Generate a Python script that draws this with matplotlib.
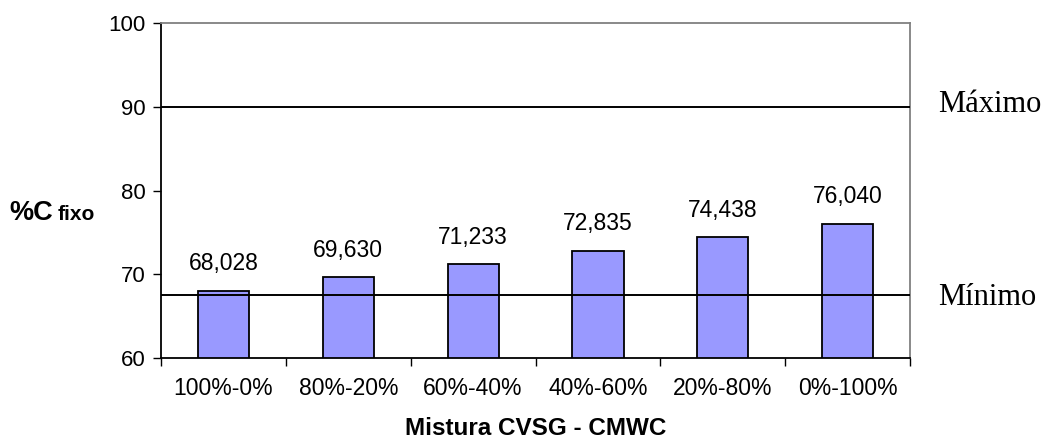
import matplotlib.pyplot as plt
import numpy as np

categorias = ['100%-0%', '80%-20%', '60%-40%', '40%-60%', '20%-80%', '0%-100%']
valores = [68.028, 69.630, 71.233, 72.835, 74.438, 76.040]
maximo = 90
minimo = 67.5

plt.rcParams['font.family'] = ['Liberation Sans', 'DejaVu Sans']

fig = plt.figure(figsize=(10.49, 4.46), dpi=100)
ax = fig.add_axes([0.1535, 0.1973, 0.714, 0.7511])

x = np.arange(len(categorias))
ax.bar(x, valores, width=0.41, bottom=0, color='#9999FF', edgecolor='black', linewidth=1.3, zorder=2)

ax.axhline(maximo, color='black', lw=1.4, zorder=3)
ax.axhline(minimo, color='black', lw=1.4, zorder=3)

for xi, v in zip(x, valores):
    ax.annotate(f'{v:.3f}'.replace('.', ','), (xi, v), xytext=(0, 11), textcoords='offset points',
                ha='center', va='bottom', fontsize=16.5)

ax.set_xlim(-0.5, len(categorias) - 0.5)
ax.set_ylim(60, 100)
ax.set_yticks([60, 70, 80, 90, 100])
ax.tick_params(axis='y', labelsize=16, direction='out', length=6, width=1, pad=5)
ax.set_xticks(x)
ax.set_xticklabels(categorias, fontsize=16.5)
ax.tick_params(axis='x', length=0, pad=14)
ax.set_xticks(np.arange(-0.5, len(categorias)), minor=True)
ax.tick_params(axis='x', which='minor', direction='out', length=6, width=1)

ax.spines['left'].set_color('black')
ax.spines['bottom'].set_color('black')
ax.spines['top'].set_color('#808080')
ax.spines['right'].set_color('#808080')
for s in ax.spines.values():
    s.set_linewidth(1.3)

ax.set_xlabel('Mistura CVSG - CMWC', fontsize=17.5, fontweight='bold', labelpad=12)

fig.text(0.009, 0.506, '%C', fontsize=19.5, fontweight='bold', ha='left', va='baseline')
fig.text(0.055, 0.506, 'fixo', fontsize=15, fontweight='bold', ha='left', va='baseline')

fig.text(0.894, 0.765, 'Máximo', fontsize=22, family='Liberation Serif', ha='left', va='center')
fig.text(0.894, 0.334, 'Mínimo', fontsize=22, family='Liberation Serif', ha='left', va='center')

fig.savefig('out.png', dpi=100)
